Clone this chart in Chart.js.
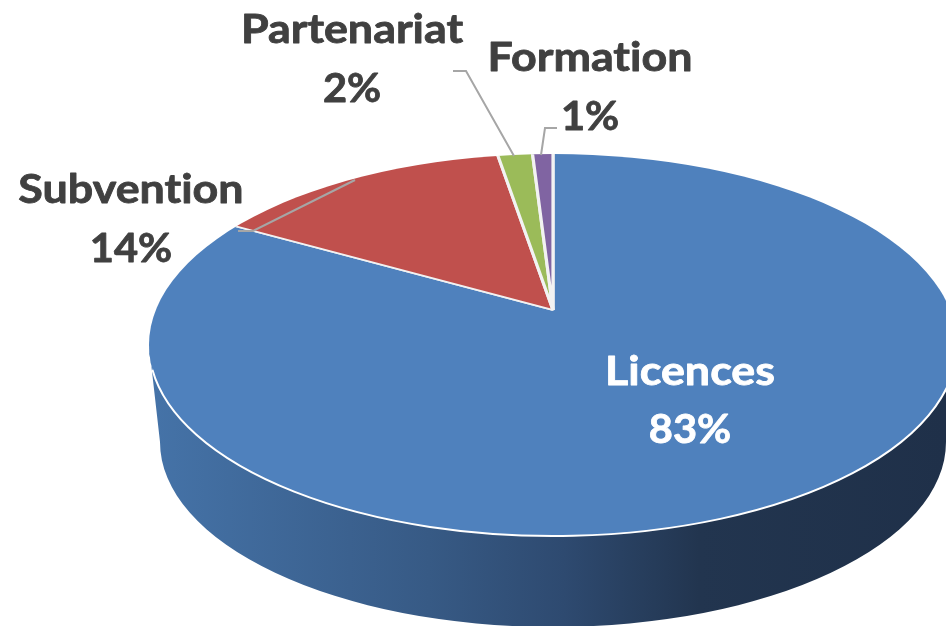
<!DOCTYPE html>
<html>
<head>
<meta charset="utf-8">
<title>Recettes</title>
<script src="https://cdn.jsdelivr.net/npm/chart.js@4"></script>
<style>
  html, body { margin: 0; padding: 0; background: #fff; overflow: hidden; }
  canvas { display: block; }
</style>
</head>
<body>
<canvas id="pieChart" width="946" height="626"></canvas>
<script>
// =============== DATA ===============

const categories = ["Licences", "Subvention", "Partenariat", "Formation"];
const shares = [83.0, 14.3, 1.7, 1.0];
const sliceColors = ["#4f81bd", "#c0504d", "#9bbb59", "#8064a2"];

// =============== 3D LOOK ===============

const apex = { x: 553, y: 310 };
const viewScale = 1.6;
const squash = 0.48;
const topFace = { x: 553, y: 345, rx: 404, ry: 191 };
const bottomFace = { x: 553, y: 442, rx: 393, ry: 185 };

// =============== LABELS ===============

const labelStyles = [
  { x: 690, name: 385, pct: 443, color: "#ffffff" },
  { x: 131, name: 203, pct: 262, color: "#404040" },
  { x: 352, name: 43, pct: 102, color: "#404040" },
  { x: 590, name: 71, pct: 130, color: "#404040" },
];

const leaderLines = [
  null,
  [[238, 231], [253, 231], [355, 180]],
  [[453, 71], [466, 71], [514, 156]],
  [[557, 128], [545, 128], [541, 155]],
];

function drawWall(ctx) {
  const grad = ctx.createLinearGradient(150, 0, 946, 0);
  grad.addColorStop(0, "#4573a8");
  grad.addColorStop(0.35, "#375a85");
  grad.addColorStop(0.52, "#2e4a70");
  grad.addColorStop(0.69, "#22354f");
  grad.addColorStop(1, "#1f3049");

  ctx.save();
  ctx.fillStyle = grad;
  ctx.beginPath();
  ctx.ellipse(topFace.x, topFace.y, topFace.rx, topFace.ry, 0, 0, Math.PI);
  ctx.ellipse(bottomFace.x, bottomFace.y, bottomFace.rx, bottomFace.ry, 0, Math.PI, 0, true);
  ctx.closePath();
  ctx.fill();
  ctx.restore();
}

function drawLabel(ctx, text, x, y, stretch) {
  // the picture is a bit wider than it is tall, so the text is too
  ctx.save();
  ctx.translate(x, y);
  ctx.scale(stretch, 1);
  ctx.fillText(text, 0, 0);
  ctx.strokeText(text, 0, 0);
  ctx.restore();
}

const tiltedPie = {
  id: "tiltedPie",
  beforeDatasetsDraw(chart) {
    const ctx = chart.ctx;
    const arc = chart.getDatasetMeta(0).data[0];

    drawWall(ctx);

    ctx.save();
    ctx.beginPath();
    ctx.ellipse(topFace.x, topFace.y, topFace.rx, topFace.ry, 0, 0, Math.PI * 2);
    ctx.clip();
    ctx.translate(apex.x, apex.y);
    ctx.scale(viewScale, viewScale * squash);
    ctx.translate(-arc.x, -arc.y);
  },
  afterDatasetsDraw(chart) {
    const ctx = chart.ctx;
    ctx.restore();

    // white rim on the front edge
    ctx.save();
    ctx.strokeStyle = "#ffffff";
    ctx.lineWidth = 2;
    ctx.beginPath();
    ctx.ellipse(topFace.x, topFace.y, topFace.rx, topFace.ry, 0, -0.05, Math.PI - 0.13);
    ctx.stroke();
    ctx.restore();

    // leader lines
    ctx.save();
    ctx.strokeStyle = "#a6a6a6";
    ctx.lineWidth = 2;
    leaderLines.forEach((line) => {
      if (!line) return;
      ctx.beginPath();
      line.forEach((p, i) => (i ? ctx.lineTo(p[0], p[1]) : ctx.moveTo(p[0], p[1])));
      ctx.stroke();
    });
    ctx.restore();

    // labels
    ctx.save();
    ctx.font = "bold 40px Lato";
    ctx.letterSpacing = "0.01px"; // keeps "ti" from turning into a ligature
    ctx.textAlign = "center";
    ctx.textBaseline = "alphabetic";
    ctx.lineWidth = 0.8;
    ctx.lineJoin = "round";
    categories.forEach((name, i) => {
      const s = labelStyles[i];
      ctx.fillStyle = s.color;
      ctx.strokeStyle = s.color;
      drawLabel(ctx, name, s.x, s.name, 1.12);
      drawLabel(ctx, Math.round(shares[i]) + "%", s.x, s.pct, 1.04);
    });
    ctx.restore();
  },
};

// =============== INIT ===============

new Chart(document.getElementById("pieChart"), {
  type: "pie",
  data: {
    labels: categories,
    datasets: [
      {
        data: shares,
        backgroundColor: sliceColors,
        borderColor: "#f2f2f2",
        borderWidth: 2,
        clip: false,
      },
    ],
  },
  options: {
    responsive: false,
    animation: false,
    layout: { padding: 0 },
    plugins: {
      legend: { display: false },
      tooltip: { enabled: false },
    },
  },
  plugins: [tiltedPie],
});
</script>
</body>
</html>
